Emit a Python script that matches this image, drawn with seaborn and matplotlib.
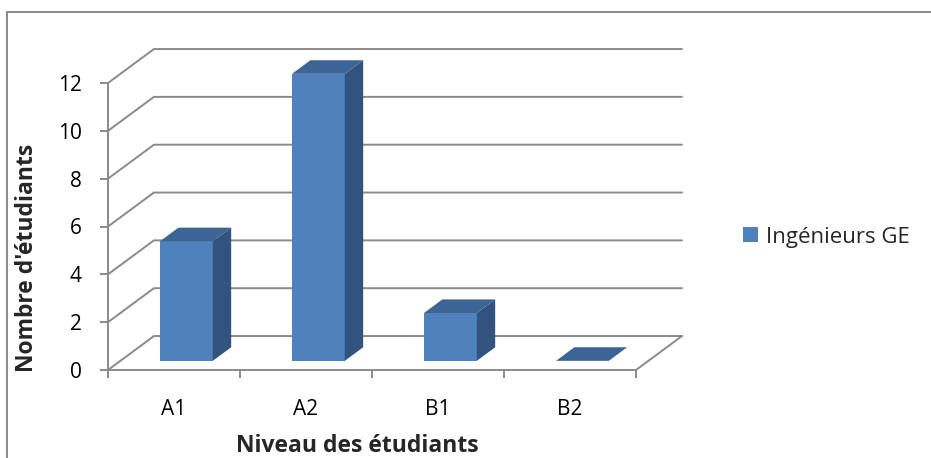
import matplotlib
matplotlib.use("Agg")
import matplotlib.pyplot as plt
from matplotlib.patches import Polygon, Patch, Rectangle
from matplotlib.transforms import Affine2D
import seaborn as sns

# Data
levels = ["A1", "A2", "B1", "B2"]
counts = [5, 12, 2, 0]
series_name = "Ingénieurs GE"
y_ticks = [0, 2, 4, 6, 8, 10, 12]

# Styling
FRONT = "#4F81BD"
TOP = "#3C6494"
SIDE = "#32537D"
GRID = "#8A8A8A"
FS = 15
FS_LEGEND = 16
FS_TITLE = 16.5

sns.set_style("white")
plt.rcParams["font.family"] = ["Open Sans", "DejaVu Sans"]

W, H = 931, 458
fig = plt.figure(figsize=(W / 100, H / 100), dpi=100)

# plotting region (front plane of the 3-D box)
left, right, bottom, top = 108, 636, 370, 83
ax = fig.add_axes([left / W, 1 - bottom / H, (right - left) / W, (bottom - top) / H])

# oblique depth of the box in data units (full depth)
DX, DY = 0.348, 1.42
# bars sit between these depth fractions
T0, T1 = 0.27, 0.67

# back wall / side wall gridlines
for v in y_ticks:
    ax.plot([-0.5, -0.5 + DX, 3.5 + DX], [v, v + DY, v + DY],
            color=GRID, lw=1.4, clip_on=False, zorder=1, solid_joinstyle="miter")
# floor right edge
ax.plot([3.5, 3.5 + DX], [0, DY], color=GRID, lw=1.4, clip_on=False, zorder=1)

# front faces of the bars
sns.barplot(x=levels, y=counts, color=FRONT, width=0.4, saturation=1,
            errorbar=None, linewidth=0, ax=ax, zorder=3)

shift = Affine2D().translate(T0 * DX, T0 * DY) + ax.transData
bdx, bdy = (T1 - T0) * DX, (T1 - T0) * DY
for bar in list(ax.patches):
    bar.set_transform(shift)
    bar.set_clip_on(False)
    x0, w, h = bar.get_x(), bar.get_width(), bar.get_height()
    side = Polygon([(x0 + w, 0), (x0 + w, h), (x0 + w + bdx, h + bdy), (x0 + w + bdx, bdy)],
                   closed=True, facecolor=SIDE, edgecolor="none", transform=shift,
                   clip_on=False, zorder=3)
    topf = Polygon([(x0, h), (x0 + w, h), (x0 + w + bdx, h + bdy), (x0 + bdx, h + bdy)],
                   closed=True, facecolor=TOP, edgecolor="none", transform=shift,
                   clip_on=False, zorder=3)
    ax.add_patch(side)
    ax.add_patch(topf)

ax.set_xlim(-0.5, 3.5)
ax.set_ylim(0, 12)
ax.set_yticks(y_ticks)
ax.set_xticks(range(len(levels)))
ax.set_xticklabels(levels)
ax.set_xticks([i - 0.5 for i in range(len(levels) + 1)], minor=True)

for s in ["top", "right"]:
    ax.spines[s].set_visible(False)
for s in ["left", "bottom"]:
    ax.spines[s].set_color(GRID)
    ax.spines[s].set_linewidth(1.4)
    ax.spines[s].set_zorder(2)

ax.tick_params(axis="y", which="major", direction="out", length=6, width=1.4,
               color=GRID, pad=13, labelsize=FS, labelcolor="black", left=True)
ax.tick_params(axis="x", which="major", length=0, pad=21, labelsize=FS, labelcolor="black")
ax.tick_params(axis="x", which="minor", direction="out", length=6, width=1.4,
               color=GRID, bottom=True)

ax.set_xlabel("Niveau des étudiants", fontsize=FS_TITLE, fontweight="bold",
              va="bottom", ha="center")
ax.xaxis.set_label_coords((357 - left) / (right - left), (bottom - 457.5) / (bottom - top))
ax.set_ylabel("Nombre d'étudiants", fontsize=FS_TITLE, fontweight="bold",
              va="center", ha="center")
ax.yaxis.set_label_coords((27 - left) / (right - left), (bottom - 258) / (bottom - top))

ax.set_facecolor("none")

# legend
handles = [Patch(facecolor=FRONT, edgecolor="none", label=series_name)]
fig.legend(handles=handles, loc="center left", bbox_to_anchor=(743 / W, 1 - 237 / H),
           frameon=False, fontsize=FS_LEGEND, handlelength=0.68, handleheight=0.68,
           handletextpad=0.35, borderpad=0, borderaxespad=0)

# chart area border
fig.patches.append(Rectangle((7 / W, -0.1), 1.2, (H - 12) / H + 0.1,
                             transform=fig.transFigure, fill=False,
                             edgecolor=GRID, lw=1.4, zorder=0))

fig.savefig("out.png", dpi=100)
